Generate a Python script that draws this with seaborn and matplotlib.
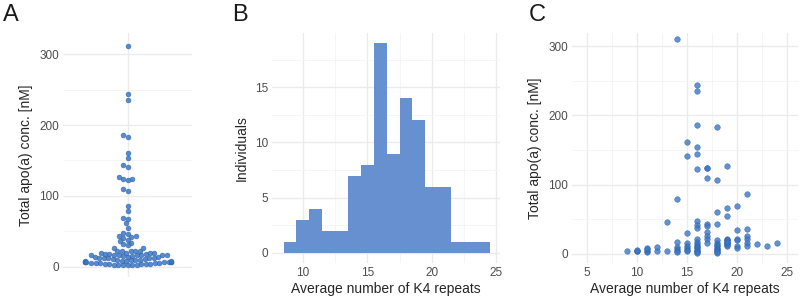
import numpy as np
import pandas as pd
import matplotlib
matplotlib.use("Agg")
import matplotlib.pyplot as plt
import seaborn as sns

# concentrations of total apo(a) [nM] grouped by average number of K4 repeats
k4_9 = [4]
k4_10 = [4, 5, 6]
k4_11 = [3, 5, 7, 8]
k4_12 = [5, 10]
k4_13 = [5, 46]
k4_14 = [311, 79, 18, 10, 7, 5, 3]
k4_15 = [161, 141, 30, 16, 12, 8, 6, 4]
k4_16 = [244, 235, 186, 154, 144, 123, 47, 42, 38, 22, 18, 15, 12, 10, 8, 6, 4, 3, 2]
k4_17 = [124, 124, 110, 43, 40, 32, 26, 22, 16]
k4_18 = [183, 107, 61, 43, 20, 16, 13, 11, 9, 7, 6, 4, 3, 2]
k4_19 = [127, 67, 55, 22, 20, 18, 16, 14, 13, 12, 20, 17]
k4_20 = [69, 34, 22, 20, 12, 8]
k4_21 = [86, 36, 26, 22, 16, 12]
k4_22 = [15]
k4_23 = [11]
k4_24 = [16]

groups = {9: k4_9, 10: k4_10, 11: k4_11, 12: k4_12, 13: k4_13, 14: k4_14,
          15: k4_15, 16: k4_16, 17: k4_17, 18: k4_18, 19: k4_19, 20: k4_20,
          21: k4_21, 22: k4_22, 23: k4_23, 24: k4_24}

rows = [(k, v) for k, vals in groups.items() for v in vals]
df = pd.DataFrame(rows, columns=["k4", "conc"])
df["group"] = "all"

sns.set_theme(style="whitegrid")
plt.rcParams["font.family"] = ["Liberation Sans", "DejaVu Sans"]

point_col = "#3b77c6"
hist_col = "#6690d0"
grid_col = "#ebebeb"
tick_col = "#4d4d4d"

fig = plt.figure(figsize=(8, 2.99), dpi=100)
W, H = 800, 299


def make_ax(x0, y0, x1, y1):
    return fig.add_axes([x0 / W, 1 - y1 / H, (x1 - x0) / W, (y1 - y0) / H])


def style(ax):
    ax.set_facecolor("white")
    for s in ax.spines.values():
        s.set_visible(False)
    ax.grid(True, which="major", color=grid_col, linewidth=1.0)
    ax.grid(True, which="minor", color="#f4f4f4", linewidth=0.6)
    ax.tick_params(which="both", length=0, labelsize=8.5, labelcolor=tick_col, pad=3)
    ax.set_axisbelow(True)


# Panel A - beeswarm laid out with a tight spacing, then points drawn bigger
axA = make_ax(63, 33, 192, 277)
sns.swarmplot(data=df, x="group", y="conc", ax=axA, color=point_col, size=2.75,
              alpha=0.85, edgecolor="#2f62a8", linewidth=0.4, warn_thresh=1.0)
axA.set_xlim(-0.6, 0.6)
axA.set_ylim(-14.6, 330)
fig.canvas.draw()
for coll in axA.collections:
    if "draw" in coll.__dict__:
        del coll.draw
    coll.set_sizes([3.5 ** 2])
axA.set_yticks([0, 100, 200, 300])
axA.set_yticks([50, 150, 250], minor=True)
axA.set_xticks([0])
axA.set_xticklabels([""])
axA.set_xlabel("")
axA.set_ylabel("Total apo(a) conc. [nM]", fontsize=10, labelpad=4)
style(axA)

# Panel B
axB = make_ax(272, 33, 500, 263)
sns.histplot(data=df, x="k4", ax=axB, discrete=True, color=hist_col, alpha=1.0,
             edgecolor="none", linewidth=0)
axB.set_xlim(7.6, 25.3)
axB.set_ylim(-0.95, 19.95)
axB.set_xticks([10, 15, 20, 25])
axB.set_xticks([12.5, 17.5, 22.5], minor=True)
axB.set_yticks([0, 5, 10, 15])
axB.set_yticks([2.5, 7.5, 12.5, 17.5], minor=True)
axB.set_xlabel("Average number of K4 repeats", fontsize=10, labelpad=2)
axB.set_ylabel("Individuals", fontsize=10, labelpad=4)
style(axB)

# Panel C
axC = make_ax(572, 33, 798, 263)
sns.scatterplot(data=df, x="k4", y="conc", ax=axC, color=point_col, s=16,
                alpha=0.8, edgecolor="#2f62a8", linewidth=0.4)
axC.set_xlim(3.5, 26.1)
axC.set_ylim(-13, 319)
axC.set_xticks([5, 10, 15, 20, 25])
axC.set_xticks([7.5, 12.5, 17.5, 22.5], minor=True)
axC.set_yticks([0, 100, 200, 300])
axC.set_yticks([50, 150, 250], minor=True)
axC.set_xlabel("Average number of K4 repeats", fontsize=10, labelpad=2)
axC.set_ylabel("Total apo(a) conc. [nM]", fontsize=10, labelpad=4)
style(axC)

for letter, x in [("A", 3), ("B", 232), ("C", 529)]:
    fig.text(x / W, 1 - 4 / H, letter, fontsize=17, va="top", ha="left", color="#1a1a1a")

fig.savefig("out.png", dpi=100)
